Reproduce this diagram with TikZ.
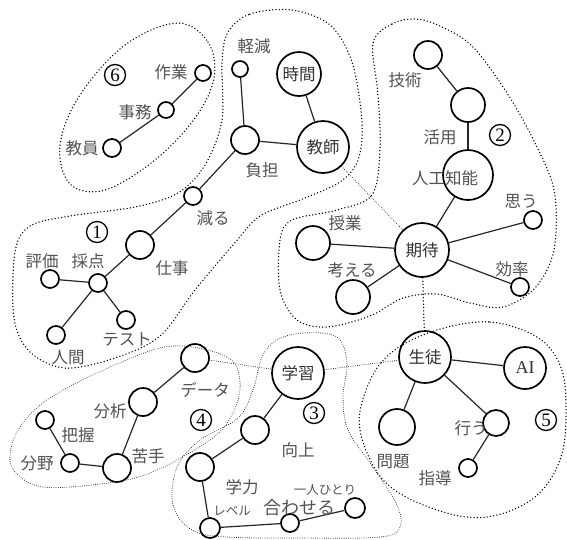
\documentclass[tikz,border=0pt]{standalone}
\usepackage{fontspec}
\newfontfamily\jp{Noto Sans CJK JP}
\newfontfamily\lat{Liberation Serif}
\begin{document}
\begin{tikzpicture}[x=1pt,y=-1pt,
  nd/.style={circle,draw=black,line width=1.7pt,inner sep=0pt,minimum size=#1,font=\jp\fontsize{16.5}{16.5}\selectfont,text=black!80},
  edge/.style={line width=1.2pt,black!85},
  lbl/.style={font=\jp\fontsize{16.5}{16.5}\selectfont,text=black!68,inner sep=0pt},
  slbl/.style={font=\jp\fontsize{12.5}{12.5}\selectfont,text=black!68,inner sep=0pt},
  num/.style={circle,draw=black,line width=1.3pt,minimum size=21pt,inner sep=0pt,font=\lat\fontsize{19}{19}\selectfont,text=black},
  hullA/.style={line width=1.5pt,dash pattern=on 0pt off 3.3pt,line cap=round},
  hullB/.style={line width=0.9pt,dash pattern=on 0pt off 2.2pt,line cap=round},
  link/.style={line width=0.9pt,dash pattern=on 0pt off 2.2pt,line cap=round},
  linkA/.style={line width=1.5pt,dash pattern=on 0pt off 3.3pt,line cap=round}
]
\useasboundingbox (0,0) rectangle (567,539);
\fill[white] (0,0) rectangle (567,539);

% hulls
\draw[hullA] plot[smooth cycle,tension=0.6] coordinates {(177,23) (208,42) (214,78) (195,118) (155,160) (105,190) (70,184) (60,145) (80,95) (125,45)};
\draw[hullA] plot[smooth cycle,tension=0.55] coordinates {(228,32) (250,14) (292,10) (330,25) (352,62) (362,122) (358,160) (340,182) (300,200) (260,216) (233,245) (195,290) (160,336) (115,358) (65,368) (30,352) (14,318) (15,252) (30,226) (70,216) (135,207) (178,193) (205,165) (222,120) (222,62)};
\draw[hullA] plot[smooth cycle,tension=0.55] coordinates {(373,43) (392,24) (415,19) (440,26) (472,46) (505,90) (532,137) (554,190) (554,250) (535,288) (503,307) (470,303) (437,294) (403,298) (370,316) (327,327) (297,320) (280,290) (280,240) (292,220) (337,210) (372,195) (380,150) (378,95)};
\draw[hullA] plot[smooth cycle,tension=0.6] coordinates {(437,330) (490,322) (537,337) (560,365) (566,405) (561,457) (535,497) (487,517) (437,510) (385,482) (360,430) (368,385) (392,352)};
\draw[hullB] plot[smooth cycle,tension=0.6] coordinates {(277,340) (303,333) (337,337) (347,363) (343,397) (348,430) (370,463) (396,503) (400,527) (380,537) (300,538) (227,537) (192,530) (173,505) (177,467) (200,440) (238,418) (253,390) (262,357)};
\draw[hullB] plot[smooth cycle,tension=0.6] coordinates {(173,346) (227,357) (240,382) (233,413) (210,440) (150,473) (100,484) (43,487) (16,473) (10,455) (20,427) (50,398) (117,364)};

% nodes group 6
\node[nd=16pt] (sagyo) at (203,73) {};
\node[nd=16pt] (jimu) at (166,110) {};
\node[nd=18pt] (kyoin) at (112,148) {};
% group 1
\node[nd=16pt] (keigen) at (240,69) {};
\node[nd=44pt] (jikan) at (299,74) {時間};
\node[nd=52pt] (kyoshi) at (323,147) {教師};
\node[nd=28pt] (futan) at (245,140) {};
\node[nd=18pt] (heru) at (193,196) {};
\node[nd=28pt] (shigoto) at (140,245) {};
\node[nd=18pt] (saiten) at (98,283) {};
\node[nd=18pt] (hyoka) at (50,279) {};
\node[nd=18pt] (test) at (126,320) {};
\node[nd=18pt] (ningen) at (56,335) {};
% group 2
\node[nd=28pt] (gijutsu) at (428,55) {};
\node[nd=34pt] (katsuyo) at (468,105) {};
\node[nd=50pt] (ai2) at (468,175) {};
\node[nd=54pt] (kitai) at (422,250) {期待};
\node[nd=18pt] (omou) at (533,220) {};
\node[nd=18pt] (koritsu) at (520,287) {};
\node[nd=34pt] (jugyo) at (313,243) {};
\node[nd=34pt] (kangaeru) at (353,297) {};
% group 5
\node[nd=52pt] (seito) at (425,357) {生徒};
\node[nd=42pt,font=\lat\fontsize{18}{18}\selectfont] (ainode) at (525,368) {AI};
\node[nd=36pt] (mondai) at (397,427) {};
\node[nd=26pt] (okonau) at (496,423) {};
\node[nd=18pt] (shido) at (468,468) {};
% group 3
\node[nd=52pt] (gakushu) at (298,373) {学習};
\node[nd=28pt] (kojo) at (255,430) {};
\node[nd=28pt] (gakuryoku) at (200,467) {};
\node[nd=20pt] (level) at (210,528) {};
\node[nd=18pt] (awaseru) at (290,523) {};
\node[nd=20pt] (hitori) at (355,508) {};
% group 4
\node[nd=28pt] (data) at (195,358) {};
\node[nd=28pt] (bunseki) at (143,402) {};
\node[nd=28pt] (nigate) at (117,468) {};
\node[nd=18pt] (bunya) at (70,463) {};
\node[nd=18pt] (haaku) at (45,420) {};

% edges
\draw[edge] (sagyo) -- (jimu);
\draw[edge] (jimu) -- (kyoin);
\draw[edge] (keigen) -- (futan);
\draw[edge] (futan) -- (kyoshi);
\draw[edge] (jikan) -- (kyoshi);
\draw[edge] (futan) -- (heru);
\draw[edge] (heru) -- (shigoto);
\draw[edge] (shigoto) -- (saiten);
\draw[edge] (saiten) -- (hyoka);
\draw[edge] (saiten) -- (test);
\draw[edge] (saiten) -- (ningen);
\draw[edge] (gijutsu) -- (katsuyo);
\draw[edge] (katsuyo) -- (ai2);
\draw[edge] (ai2) -- (kitai);
\draw[edge] (kitai) -- (omou);
\draw[edge] (kitai) -- (koritsu);
\draw[edge] (kitai) -- (jugyo);
\draw[edge] (kitai) -- (kangaeru);
\draw[edge] (seito) -- (ainode);
\draw[edge] (seito) -- (mondai);
\draw[edge] (seito) -- (okonau);
\draw[edge] (okonau) -- (shido);
\draw[edge] (gakushu) -- (kojo);
\draw[edge] (kojo) -- (gakuryoku);
\draw[edge] (gakuryoku) -- (level);
\draw[edge] (level) -- (awaseru);
\draw[edge] (awaseru) -- (hitori);
\draw[edge] (data) -- (bunseki);
\draw[edge] (bunseki) -- (nigate);
\draw[edge] (nigate) -- (bunya);
\draw[edge] (bunya) -- (haaku);

% inter-group links
\draw[link] (kyoshi) -- (kitai);
\draw[linkA] (kitai) -- (seito);
\draw[link] (gakushu) -- (seito);
\draw[link] (data) -- (gakushu);

% labels
\node[lbl] (l-sagyo) at (171,72) {作業};
\node[lbl] (l-jimu) at (135,112) {事務};
\node[lbl] (l-kyoin) at (82,148) {教員};
\node[lbl] (l-keigen) at (254,46) {軽減};
\node[lbl] (l-futan) at (262,170) {負担};
\node[lbl] (l-heru) at (213,218) {減る};
\node[lbl] (l-shigoto) at (172,268) {仕事};
\node[lbl] (l-saiten) at (88,261) {採点};
\node[lbl] (l-hyoka) at (42,261) {評価};
\node[lbl] (l-test) at (127,340) {テスト};
\node[lbl] (l-ningen) at (68,357) {人間};
\node[lbl] (l-gijutsu) at (405,80) {技術};
\node[lbl] (l-katsuyo) at (440,137) {活用};
\node[lbl] (l-ai2) at (445,178) {人工知能};
\node[lbl] (l-omou) at (521,201) {思う};
\node[lbl] (l-koritsu) at (512,269) {効率};
\node[lbl] (l-jugyo) at (345,223) {授業};
\node[lbl] (l-kangaeru) at (352,270) {考える};
\node[lbl] (l-mondai) at (393,462) {問題};
\node[lbl] (l-okonau) at (471,428) {行う};
\node[lbl] (l-shido) at (435,478) {指導};
\node[lbl] (l-kojo) at (298,450) {向上};
\node[lbl] (l-gakuryoku) at (242,487) {学力};
\node[slbl] (l-level) at (232,511) {レベル};
\node[lbl,font=\jp\fontsize{18}{18}\selectfont] (l-awaseru) at (299,508) {合わせる};
\node[slbl] (l-hitori) at (325,490) {一人ひとり};
\node[lbl] (l-data) at (205,390) {データ};
\node[lbl] (l-bunseki) at (110,411) {分析};
\node[lbl] (l-nigate) at (148,456) {苦手};
\node[lbl] (l-bunya) at (37,463) {分野};
\node[lbl] (l-haaku) at (78,435) {把握};

% group numbers
\node[num] (n1) at (97,232) {1};
\node[num] (n2) at (500,135) {2};
\node[num] (n3) at (314,413) {3};
\node[num] (n4) at (201,420) {4};
\node[num] (n5) at (546,420) {5};
\node[num] (n6) at (115,75) {6};
\end{tikzpicture}
\end{document}
